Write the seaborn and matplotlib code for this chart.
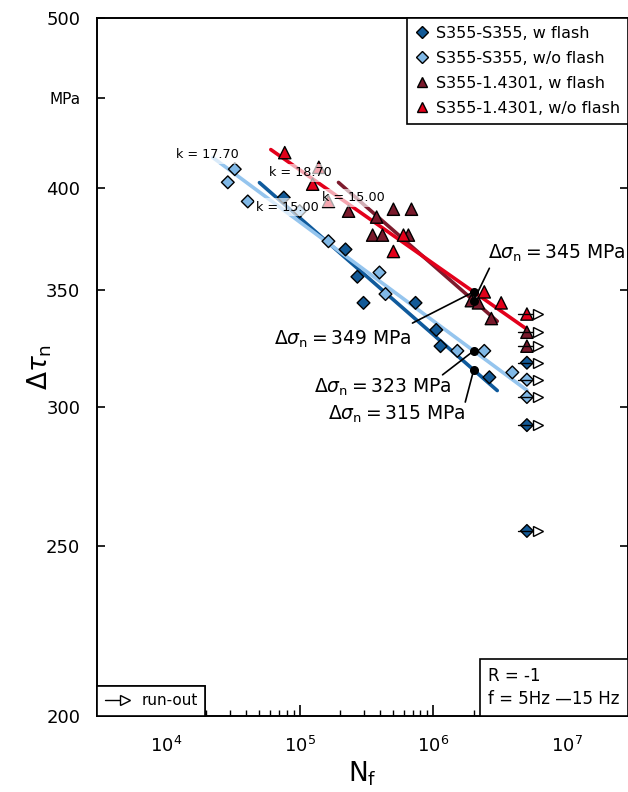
import numpy as np
import pandas as pd
import seaborn as sns
import matplotlib
matplotlib.use("Agg")
import matplotlib.pyplot as plt
from matplotlib.lines import Line2D
from matplotlib.legend_handler import HandlerBase
from matplotlib.offsetbox import AnchoredText
from matplotlib.ticker import FixedLocator, FixedFormatter, NullLocator, LogLocator, NullFormatter

# ---------------- data ----------------
series_names = ["S355-S355, w flash", "S355-S355, w/o flash",
                "S355-1.4301, w flash", "S355-1.4301, w/o flash"]

ss_wf_N = [7.6e4, 2.2e5, 2.7e5, 3.0e5, 7.35e5, 1.05e6, 1.13e6, 2.62e6]
ss_wf_S = [395, 369, 356, 344, 344, 332, 325, 312]

ss_wof_N = [2.9e4, 3.27e4, 4.09e4, 1.0e5, 1.64e5, 3.95e5, 4.38e5, 1.51e6, 2.40e6, 3.89e6]
ss_wof_S = [403, 410, 393, 388, 373, 358, 348, 323, 323, 314]

sx_wf_N = [2.32e5, 3.76e5, 5.02e5, 6.85e5, 3.51e5, 4.16e5, 6.5e5, 1.92e6, 2.17e6, 2.71e6]
sx_wf_S = [388, 385, 389, 389, 376, 376, 376, 345, 344, 337]

sx_wof_N = [7.73e4, 1.25e5, 1.39e5, 1.64e5, 5.02e5, 5.97e5, 2.40e6, 3.21e6]
sx_wof_S = [419, 402, 411, 393, 368, 376, 349, 344]

# run-outs (N = 5e6)
ro_N = 5e6
ro_series = ["S355-1.4301, w/o flash", "S355-1.4301, w flash", "S355-1.4301, w flash",
             "S355-S355, w flash", "S355-S355, w/o flash", "S355-S355, w/o flash",
             "S355-S355, w flash", "S355-S355, w flash"]
ro_S = [339, 331, 325, 318, 311, 304, 293, 255]

# S-N curves: stress range at 2e6, slope k, N range
fit_series = series_names
fit_dsig = [315, 323, 345, 349]
fit_k = [15.00, 17.70, 15.00, 18.70]
fit_Nmin = [5.0e4, 2.24e4, 1.95e5, 6.08e4]
fit_Nmax = [3.0e6, 5.0e6, 3.0e6, 5.0e6]

y_ticks = [200, 250, 300, 350, 400, 450, 500]
y_ticklabels = ["200", "250", "300", "350", "400", "MPa", "500"]

# ---------------- style ----------------
marker_color = {"S355-S355, w flash": "#135a97",
                "S355-S355, w/o flash": "#80b8e6",
                "S355-1.4301, w flash": "#7a1a2c",
                "S355-1.4301, w/o flash": "#e2001a"}
line_color = {"S355-S355, w flash": "#0f5a9c",
              "S355-S355, w/o flash": "#95c5ee",
              "S355-1.4301, w flash": "#7d1b2d",
              "S355-1.4301, w/o flash": "#e3001b"}
marker_shape = {"S355-S355, w flash": "D", "S355-S355, w/o flash": "D",
                "S355-1.4301, w flash": "^", "S355-1.4301, w/o flash": "^"}

sns.set_theme(style="ticks")
plt.rcParams["font.family"] = ["DejaVu Sans"]
plt.rcParams["mathtext.fontset"] = "dejavusans"
for key in ["text.color", "axes.labelcolor", "xtick.color", "ytick.color", "axes.edgecolor"]:
    plt.rcParams[key] = "black"

fig = plt.figure(figsize=(6.28, 7.92), dpi=100)
ax = fig.add_axes([97 / 628, 76 / 792, (628 - 97) / 628, 698 / 792])
ax.set_xscale("log")
ax.set_yscale("log")

pts = pd.DataFrame({
    "N": ss_wf_N + ss_wof_N + sx_wf_N + sx_wof_N,
    "S": ss_wf_S + ss_wof_S + sx_wf_S + sx_wof_S,
    "series": ([series_names[0]] * len(ss_wf_N) + [series_names[1]] * len(ss_wof_N)
               + [series_names[2]] * len(sx_wf_N) + [series_names[3]] * len(sx_wof_N)),
})
ro = pd.DataFrame({"N": [ro_N] * len(ro_S), "S": ro_S, "series": ro_series})
allpts = pd.concat([pts, ro], ignore_index=True)

rows = []
for s, d, k, n0, n1 in zip(fit_series, fit_dsig, fit_k, fit_Nmin, fit_Nmax):
    for n in (n0, n1):
        rows.append({"N": n, "S": d * (n / 2e6) ** (-1.0 / k), "series": s})
fits = pd.DataFrame(rows)
sns.lineplot(data=fits, x="N", y="S", hue="series", hue_order=series_names,
             palette=line_color, linewidth=2.6, legend=False, ax=ax, zorder=2,
             estimator=None, sort=True)

dia = allpts[allpts["series"].str.startswith("S355-S355")]
tri = allpts[allpts["series"].str.startswith("S355-1.4301")]
sns.scatterplot(data=tri, x="N", y="S", hue="series", palette=marker_color,
                marker="^", s=78, edgecolor="black", linewidth=1.0,
                legend=False, ax=ax, zorder=3)
sns.scatterplot(data=dia, x="N", y="S", hue="series", palette=marker_color,
                marker="D", s=42, edgecolor="black", linewidth=1.0,
                legend=False, ax=ax, zorder=3)

for sv in ro_S:
    ax.plot([4.3e6, 6.0e6], [sv, sv], color="black", lw=1.0, zorder=4)
    ax.plot([6.0e6], [sv], marker=">", ms=7.5, mfc="white", mec="black", mew=1.0,
            ls="none", zorder=4)

k_pos = [(2.05e4, 418, "k = 17.70"), (1.02e5, 408, "k = 18.70"),
         (8.13e4, 390, "k = 15.00"), (2.53e5, 395, "k = 15.00")]
for x, y, t in k_pos:
    ax.text(x, y, t, fontsize=9.2, ha="center", va="center", zorder=5,
            bbox=dict(boxstyle="square,pad=0.2", fc="white", ec="none", alpha=0.65))

ann = [((8.4e6, 367), (2.62e6, 360), 345),
       ((2.09e5, 328), (6.97e5, 335), 349),
       ((4.16e5, 308), (1.17e6, 313), 323),
       ((5.3e5, 297), (1.73e6, 302), 315)]
for tpos, lstart, pt in ann:
    ax.plot([lstart[0], 2e6], [lstart[1], pt], color="black", lw=1.2, zorder=6)
    ax.plot([2e6], [pt], marker="o", ms=5.5, color="black", zorder=7)
    ax.text(tpos[0], tpos[1], r"$\Delta\sigma_\mathrm{n} = %d\ \mathrm{MPa}$" % pt,
            fontsize=13.5, ha="center", va="center", zorder=7)

ax.set_xlim(3.05e3, 2.85e7)
ax.set_ylim(200, 500)
ax.yaxis.set_major_locator(FixedLocator(y_ticks))
ax.yaxis.set_major_formatter(FixedFormatter(y_ticklabels))
ax.yaxis.set_minor_locator(NullLocator())
ax.xaxis.set_major_locator(LogLocator(base=10, numticks=10))
ax.xaxis.set_minor_locator(LogLocator(base=10, subs=np.arange(2, 10), numticks=20))
ax.xaxis.set_minor_formatter(NullFormatter())
ax.tick_params(axis="y", which="major", direction="in", length=6, width=1.2,
               labelsize=13, pad=12, right=True)
ax.tick_params(axis="x", which="major", direction="in", length=8, width=1.2,
               labelsize=13, pad=14)
ax.tick_params(axis="x", which="minor", direction="in", length=4.5, width=1.0)
for lab in ax.get_yticklabels():
    if lab.get_text() == "MPa":
        lab.set_fontsize(11)
for sp in ax.spines.values():
    sp.set_linewidth(1.4)
    sp.set_color("black")

ax.set_xlabel(r"$\mathrm{N_f}$", fontsize=19, labelpad=3)
ax.set_ylabel(r"$\Delta\tau_\mathrm{n}$", fontsize=19, labelpad=-6)

handles = [Line2D([0], [0], marker=marker_shape[s], ls="none", mfc=marker_color[s],
                  mec="black", mew=1.0, ms=7 if marker_shape[s] == "^" else 5.8)
           for s in series_names]
leg1 = ax.legend(handles, series_names, loc="upper right", borderaxespad=0,
                 fontsize=11.5, frameon=True, fancybox=False, edgecolor="black",
                 framealpha=1, handlelength=0.8, handletextpad=0.5, labelspacing=0.62,
                 borderpad=0.5)
leg1.get_frame().set_linewidth(1.2)
ax.add_artist(leg1)


class RunoutHandler(HandlerBase):
    def create_artists(self, legend, orig_handle, xdescent, ydescent, width, height,
                       fontsize, trans):
        y = height / 2 - ydescent
        x0 = -xdescent
        ln = Line2D([x0, x0 + width * 0.75], [y, y], color="black", lw=1.0)
        mk = Line2D([x0 + width * 0.75], [y], marker=">", ms=7, mfc="white",
                    mec="black", mew=1.0, ls="none")
        ln.set_transform(trans)
        mk.set_transform(trans)
        return [ln, mk]


ro_handle = Line2D([0], [0], color="black")
leg2 = ax.legend([ro_handle], ["run-out"], loc="lower left", borderaxespad=0,
                 fontsize=11, frameon=True, fancybox=False, edgecolor="black",
                 framealpha=1, handlelength=1.8, handletextpad=0.6, borderpad=0.5,
                 handler_map={Line2D: RunoutHandler()})
leg2.get_frame().set_linewidth(1.2)
ax.add_artist(leg2)

at = AnchoredText("R = -1\nf = 5Hz \u201415 Hz", loc="lower right", frameon=True,
                  borderpad=0, pad=0.5, prop=dict(size=12, linespacing=1.3))
at.patch.set_boxstyle("square,pad=0")
at.patch.set_edgecolor("black")
at.patch.set_linewidth(1.2)
at.zorder = 8
ax.add_artist(at)

fig.savefig("out.png", dpi=100, facecolor="white")
